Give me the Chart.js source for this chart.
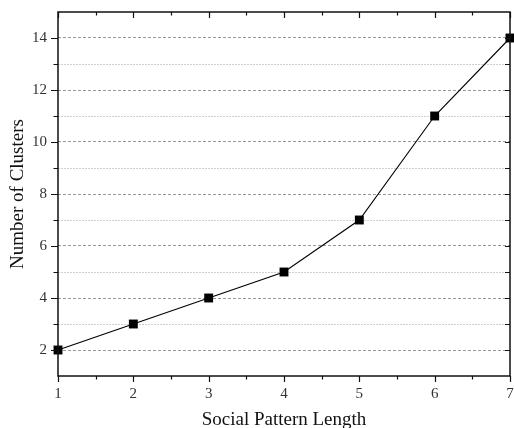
<!DOCTYPE html>
<html>
<head>
<meta charset="utf-8">
<script src="https://cdn.jsdelivr.net/npm/chart.js@4/dist/chart.umd.min.js"></script>
<style>
  html, body { margin: 0; padding: 0; background: #fff; }
  #wrap { width: 514px; height: 428px; }
</style>
</head>
<body>
<div id="wrap"><canvas id="chart" width="514" height="428"></canvas></div>
<script>
const patternLengths = [1, 2, 3, 4, 5, 6, 7];
const clusterCounts = [2, 3, 4, 5, 7, 11, 14];
const yTickLabels = [2, 4, 6, 8, 10, 12, 14];

const serif = "'Liberation Serif', 'DejaVu Serif', serif";

// frame + tick marks like the original plot (ticks follow the chart scales)
const framePlugin = {
  id: "frame",
  afterDraw(chart) {
    const { ctx, chartArea: a, scales } = chart;
    const x = scales.x, y = scales.y;
    ctx.save();
    ctx.strokeStyle = "#111";
    ctx.lineWidth = 1.5;
    ctx.strokeRect(a.left, a.top, a.right - a.left, a.bottom - a.top);

    ctx.lineWidth = 1.2;
    ctx.beginPath();
    for (let v = x.min; v <= x.max; v += 0.5) {
      const px = Math.round(x.getPixelForValue(v)) + 0.5;
      const len = Number.isInteger(v) ? 6 : 3.5;
      ctx.moveTo(px, a.bottom);
      ctx.lineTo(px, a.bottom + len);
      ctx.moveTo(px, a.top);
      ctx.lineTo(px, a.top + len);
    }
    for (let v = y.min + 1; v < y.max; v++) {
      const py = Math.round(y.getPixelForValue(v)) + 0.5;
      const len = v % 2 === 0 ? 7 : 4.5;
      ctx.moveTo(a.left, py);
      ctx.lineTo(a.left - len, py);
      ctx.moveTo(a.right, py);
      ctx.lineTo(a.right - 5, py);
    }
    ctx.stroke();
    ctx.restore();
  }
};

new Chart(document.getElementById("chart"), {
  type: "line",
  data: {
    labels: patternLengths,
    datasets: [{
      data: patternLengths.map((l, i) => ({ x: l, y: clusterCounts[i] })),
      borderColor: "#000",
      borderWidth: 1.1,
      backgroundColor: "#000",
      pointStyle: "rect",
      pointRadius: 6.3,
      pointBorderWidth: 0,
      tension: 0,
      clip: false
    }]
  },
  options: {
    responsive: false,
    animation: false,
    layout: { autoPadding: false, padding: { top: 12, right: 4, left: 0, bottom: 0 } },
    plugins: { legend: { display: false }, tooltip: { enabled: false } },
    scales: {
      x: {
        type: "linear",
        min: 1,
        max: 7,
        afterFit(scale) {
          scale.height = 52;
          scale.paddingLeft = 0;
          scale.paddingRight = 0;
        },
        grid: { display: false, drawTicks: false },
        border: { display: false },
        ticks: {
          stepSize: 1,
          padding: 9,
          color: "#333",
          font: { family: serif, size: 15 }
        },
        title: {
          display: true,
          text: "Social Pattern Length",
          color: "#111",
          padding: { top: 5, bottom: -3 },
          font: { family: serif, size: 19 }
        }
      },
      y: {
        min: 1,
        max: 15,
        afterFit(scale) {
          scale.width = 58;
          scale.paddingTop = 0;
          scale.paddingBottom = 0;
        },
        grid: {
          drawTicks: false,
          lineWidth: 1,
          color(ctx) {
            const v = ctx.tick && ctx.tick.value;
            if (v === 1 || v === 15) return "rgba(0,0,0,0)";
            return v % 2 === 0 ? "#9a9a9a" : "#cfcfcf";
          }
        },
        border: {
          display: false,
          dash(ctx) {
            const v = ctx.tick && ctx.tick.value;
            return v % 2 === 0 ? [3, 2] : [2, 1];
          }
        },
        ticks: {
          stepSize: 1,
          padding: 11,
          color: "#333",
          font: { family: serif, size: 15 },
          callback(value) {
            return yTickLabels.includes(value) ? String(value) : "";
          }
        },
        title: {
          display: true,
          text: "Number of Clusters",
          color: "#111",
          padding: { top: 7, bottom: 0 },
          font: { family: serif, size: 19 }
        }
      }
    }
  },
  plugins: [framePlugin]
});
</script>
</body>
</html>
